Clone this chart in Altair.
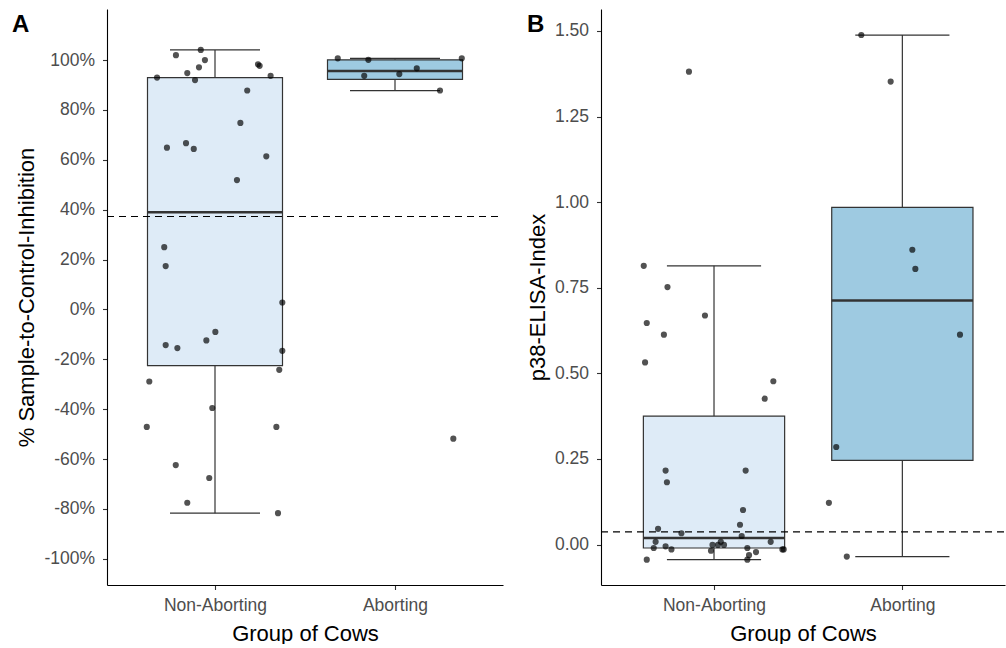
import altair as alt
import pandas as pd

groups = ["Non-Aborting", "Aborting"]
group_idx = [1, 2]

# ---------- Panel A: % Sample-to-Control-Inhibition ----------
a_q1 = [-22.5, 92.3]
a_med = [39.0, 95.6]
a_q3 = [93.0, 100.1]
a_lo = [-81.7, 87.8]
a_hi = [104.1, 100.7]
a_cutoff = 37.3

a_pt_group = [1] * 34 + [2] * 8
a_pt_jitter = [-0.217, -0.079, -0.056, -0.089, -0.154, -0.111, -0.322, 0.239, 0.248,
               0.309, 0.179, 0.141, -0.267, -0.161, -0.118, 0.285, 0.122, -0.282,
               -0.274, 0.374, -0.274, -0.209, -0.048, 0.002, 0.374, 0.357, -0.365,
               -0.015, -0.379, 0.341, -0.218, -0.032, -0.154, 0.350,
               -0.318, -0.148, 0.371, 0.121, 0.024, -0.171, 0.250, 0.324]
a_pt_value = [102.0, 104.1, 100.0, 97.1, 94.8, 92.0, 93.0, 98.3, 97.7,
              93.7, 87.8, 74.8, 64.9, 66.7, 64.4, 61.4, 51.9, 25.0,
              17.4, 2.8, -14.3, -15.5, -12.4, -9.0, -16.6, -24.2, -28.9,
              -39.5, -47.1, -47.1, -62.4, -67.6, -77.5, -81.7,
              100.7, 100.1, 100.7, 96.7, 94.4, 93.7, 87.8, -51.8]

# ---------- Panel B: p38-ELISA-Index ----------
b_q1 = [-0.010, 0.246]
b_med = [0.0195, 0.713]
b_q3 = [0.375, 0.985]
b_lo = [-0.044, -0.035]
b_hi = [0.814, 1.488]
b_cutoff = 0.037

b_pt_group = [1] * 34 + [2] * 8
b_pt_jitter = [-0.133, -0.373, -0.247, -0.357, -0.266, -0.048, -0.366, 0.315, 0.269,
               -0.257, -0.250, 0.168, 0.154, 0.138, -0.297, -0.173, 0.147, -0.310,
               0.301, -0.320, -0.257, -0.226, -0.357, -0.008, -0.016, 0.036, 0.021,
               0.053, 0.177, 0.223, 0.186, 0.177, 0.363, 0.370,
               -0.218, -0.062, 0.053, 0.069, 0.306, -0.351, -0.390, -0.295]
b_pt_value = [1.381, 0.814, 0.752, 0.647, 0.613, 0.669, 0.532, 0.477, 0.426,
              0.216, 0.182, 0.216, 0.101, 0.058, 0.046, 0.033, 0.025, 0.008,
              0.008, -0.010, -0.005, -0.014, -0.044, -0.001, -0.018, 0.008, -0.001,
              -0.001, -0.010, -0.022, -0.031, -0.044, -0.014, -0.014,
              1.488, 1.352, 0.861, 0.805, 0.613, 0.285, 0.122, -0.035]

box_fill = ["#DEEBF7", "#9ECAE1"]
FONT = "Liberation Sans"
BOX_W = 0.75
CAP_W = 0.5


def make_yaxis(values, title, label_expr=None, fmt=None):
    kw = dict(values=values, grid=False, title=title,
              tickColor="#333333", tickSize=4.5, tickWidth=1.1,
              domainColor="#000000", domainWidth=1.1,
              labelColor="#4D4D4D", labelFontSize=17.5, labelPadding=8,
              titleFontSize=22, titleColor="#000000", titlePadding=5,
              titleFontWeight="normal")
    if label_expr:
        kw["labelExpr"] = label_expr
    if fmt:
        kw["format"] = fmt
    return alt.Axis(**kw)


xaxis = alt.Axis(values=[1, 2], grid=False, title="Group of Cows",
                 labelExpr="datum.value == 1 ? 'Non-Aborting' : 'Aborting'",
                 tickColor="#333333", tickSize=4.5, tickWidth=1.1,
                 domainColor="#000000", domainWidth=1.1,
                 labelColor="#4D4D4D", labelFontSize=17.5, labelPadding=7,
                 titleFontSize=22, titleColor="#000000", titlePadding=9,
                 titleFontWeight="normal", labelFlush=False)


def panel(letter, q1, med, q3, lo, hi, cutoff, pg, pj, pv,
          xdomain, width, ydomain, yaxis, letter_x):
    box = pd.DataFrame({
        "group": groups, "idx": group_idx, "q1": q1, "med": med, "q3": q3,
        "lo": lo, "hi": hi, "fill": box_fill,
    })
    box["left"] = box["idx"] - BOX_W / 2
    box["right"] = box["idx"] + BOX_W / 2
    box["cl"] = box["idx"] - CAP_W / 2
    box["cr"] = box["idx"] + CAP_W / 2
    pts = pd.DataFrame({"g": pg, "j": pj, "v": pv})
    pts["x"] = pts["g"] + pts["j"]

    xs = alt.Scale(domain=xdomain, nice=False, zero=False)
    ys = alt.Scale(domain=ydomain, nice=False, zero=False)

    def X(f):
        return alt.X(f, scale=xs, axis=xaxis)

    def Y(f):
        return alt.Y(f, scale=ys, axis=yaxis)

    base = alt.Chart(box)
    line = dict(color="#333333", strokeWidth=1.2)
    whisk_up = base.mark_rule(**line).encode(x=X("idx:Q"), y=Y("q3:Q"), y2="hi:Q")
    whisk_dn = base.mark_rule(**line).encode(x=X("idx:Q"), y=Y("lo:Q"), y2="q1:Q")
    cap_hi = base.mark_rule(**line).encode(x=X("cl:Q"), x2="cr:Q", y=Y("hi:Q"))
    cap_lo = base.mark_rule(**line).encode(x=X("cl:Q"), x2="cr:Q", y=Y("lo:Q"))
    rect = base.mark_rect(stroke="#333333", strokeWidth=1.2).encode(
        x=X("left:Q"), x2="right:Q", y=Y("q1:Q"), y2="q3:Q",
        fill=alt.Fill("fill:N", scale=None))
    median = base.mark_rule(color="#333333", strokeWidth=2.5).encode(
        x=X("left:Q"), x2="right:Q", y=Y("med:Q"))
    cut = alt.Chart(pd.DataFrame({"c": [cutoff]})).mark_rule(
        color="#000000", strokeWidth=1.1, strokeDash=[7, 5]).encode(
        y=Y("c:Q"), x=alt.value(0), x2=alt.value(width))
    points = alt.Chart(pts).mark_circle(size=38, color="#000000", opacity=0.68).encode(
        x=X("x:Q"), y=Y("v:Q"))
    lab = alt.Chart(pd.DataFrame({"t": [letter]})).mark_text(
        font=FONT, fontSize=24, fontWeight="bold", align="left", baseline="alphabetic",
        color="#000000").encode(text="t:N", x=alt.value(letter_x), y=alt.value(23))

    return alt.layer(whisk_up, whisk_dn, cap_hi, cap_lo, rect, median, cut, points, lab).properties(
        width=width, height=576)


yaxis_a = make_yaxis(list(range(-100, 101, 20)), "% Sample-to-Control-Inhibition",
                     label_expr="datum.value + '%'")
yaxis_b = make_yaxis([0, 0.25, 0.5, 0.75, 1.0, 1.25, 1.5], "p38-ELISA-Index", fmt=".2f")

pa = panel("A", a_q1, a_med, a_q3, a_lo, a_hi, a_cutoff, a_pt_group, a_pt_jitter, a_pt_value,
           [0.4, 2.6], 396, [-110.5, 120.5], yaxis_a, -95)
pb = panel("B", b_q1, b_med, b_q3, b_lo, b_hi, b_cutoff, b_pt_group, b_pt_jitter, b_pt_value,
           [0.4, 2.545], 404, [-0.118, 1.564], yaxis_b, -74)

chart = alt.hconcat(pa, pb, spacing=22).properties(
    padding={"left": 12, "top": 9, "right": 0, "bottom": 0}
).configure(
    font=FONT, background="white",
    view=alt.ViewConfig(strokeWidth=0, stroke="transparent"),
)

chart.save("out.html", embed_options={"renderer": "svg", "actions": False})
